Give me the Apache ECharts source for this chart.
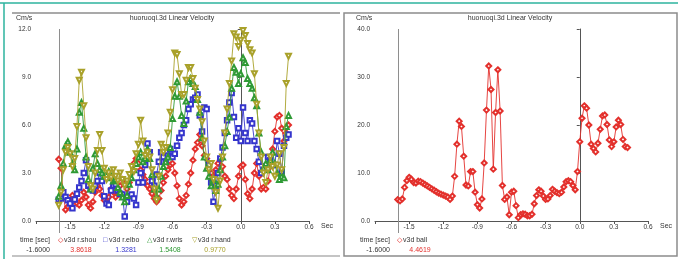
<!DOCTYPE html>
<html lang="en" style="height: 100%">
<head>
  <meta charset="utf-8">
</head>
<body style="height: 100%; margin: 0; background-color:#ffffff;">
  <div id="container" style="width: 678px; height: 259px"></div>

<script src="https://cdn.jsdelivr.net/npm/echarts@6/dist/echarts.min.js"></script>

<script>
  var dom = document.getElementById('container');
  var myChart = echarts.init(dom);

  // sampling: first frame and step (sec)
  var t0 = -1.6, dt = 0.02;
  var xTicks = [-1.8, -1.5, -1.2, -0.9, -0.6, -0.3, 0.0, 0.3, 0.6];

  var shou = [3.86,3.3,1.6,0.7,0.9,1.3,1.6,1.4,1.1,1.0,
    1.3,1.8,1.5,1.0,0.8,1.2,1.8,2.2,2.0,1.6,
    1.3,1.2,1.5,2.0,1.8,1.5,1.8,2.2,2.6,2.3,
    2.0,2.4,3.0,3.6,3.9,3.6,3.2,2.9,2.6,2.2,
    2.0,1.7,1.4,1.2,1.4,1.9,2.4,2.8,3.2,3.5,
    3.6,3.0,2.2,1.4,1.0,1.2,1.6,2.3,3.0,3.8,
    4.5,4.9,5.4,4.7,4.1,3.9,3.5,3.0,2.8,3.2,
    3.6,3.8,3.4,2.8,2.6,2.0,1.6,1.4,2.0,2.8,
    3.4,3.5,2.6,1.7,1.4,2.0,3.0,3.6,2.8,2.0,
    2.1,2.0,2.5,3.4,4.5,5.6,6.5,6.6,5.8,5.0,
    5.5,6.0];
  var elbo = [1.33,1.4,1.8,1.5,1.3,1.1,0.8,1.35,1.7,2.1,
    2.5,3.0,3.8,2.2,2.0,1.9,2.2,2.5,3.0,2.5,
    1.55,1.1,1.0,1.9,2.2,2.3,1.9,1.7,1.65,0.28,
    1.2,1.55,1.65,1.4,1.0,2.4,3.0,2.4,3.5,4.85,
    4.3,2.5,2.2,2.9,3.7,4.3,4.0,3.7,4.1,4.5,
    4.0,4.2,4.7,5.2,5.5,6.0,6.3,7.0,7.3,7.6,
    7.7,7.9,6.6,5.6,7.1,7.0,3.5,2.4,1.2,2.2,
    3.0,3.9,4.6,5.5,6.3,7.4,8.0,6.5,5.2,5.8,
    5.0,7.1,5.5,5.0,6.3,6.1,5.0,4.5,3.7,3.0,
    3.2,3.4,4.0,3.8,3.5,3.5,5.0,4.2,3.1,4.7,
    5.2,5.4];
  var wris = [1.54,2.2,3.6,4.7,4.95,4.3,3.6,3.2,4.5,6.8,
    7.4,5.8,4.0,2.6,2.0,3.3,4.2,3.6,3.2,3.0,
    2.8,2.9,3.1,2.7,2.5,2.6,2.1,1.8,1.5,1.2,
    1.6,2.3,2.7,3.2,3.6,4.0,4.3,3.7,3.9,4.5,
    3.9,2.9,2.0,1.55,2.0,2.8,3.4,3.7,4.0,4.6,
    6.4,7.8,8.7,7.8,6.6,6.1,7.5,8.7,8.9,8.6,
    8.4,7.6,6.8,5.2,4.0,3.3,2.8,2.2,2.6,1.9,
    2.3,3.2,4.0,4.7,5.6,6.5,8.3,9.6,9.3,8.6,
    9.2,10.2,9.9,8.9,8.6,8.3,7.7,7.2,5.5,4.3,
    3.3,3.6,3.2,3.8,4.3,3.6,3.0,2.6,2.8,2.7,
    5.9,6.6];
  var hand = [0.98,1.8,3.2,4.3,4.6,4.2,3.4,3.9,5.9,8.8,
    9.3,7.2,5.2,3.4,2.2,2.0,3.0,4.4,5.4,4.4,
    3.3,2.6,3.0,2.7,3.2,2.8,2.5,3.0,2.6,2.2,
    2.5,2.9,3.4,3.1,4.2,4.8,6.3,5.0,4.1,4.3,
    4.0,3.2,2.0,1.3,2.8,4.8,4.3,4.6,5.5,6.8,
    8.2,10.5,10.4,9.2,7.9,7.9,8.8,9.6,9.6,8.9,
    8.3,7.6,7.0,6.2,5.0,4.0,3.2,3.6,2.6,1.8,
    0.8,2.5,4.0,5.5,7.0,8.6,10.0,11.7,11.5,10.9,
    11.3,11.9,11.6,11.1,10.7,10.5,9.2,7.3,5.5,4.0,
    3.0,2.4,3.2,4.0,3.4,2.8,3.5,4.2,3.2,4.6,
    8.6,10.3];
  var ball = [4.46,4.2,4.6,7.0,8.4,9.1,8.7,8.0,7.9,8.3,
    8.2,7.9,7.6,7.3,7.0,6.7,6.4,6.1,5.8,5.6,
    5.4,5.2,5.0,4.5,5.2,9.3,16.0,20.8,19.7,13.5,
    7.5,7.3,10.3,10.3,6.0,3.4,2.7,4.6,12.1,23.1,
    32.3,27.4,10.8,22.6,31.5,22.9,7.4,4.5,5.0,1.3,
    6.0,6.2,3.2,0.7,1.3,1.5,1.4,1.1,1.1,1.4,
    3.6,5.3,6.5,6.2,5.2,4.5,4.6,5.3,6.6,6.2,
    5.9,5.7,6.0,7.1,8.2,8.4,8.2,7.4,6.5,10.3,
    16.5,21.4,24.0,23.5,20.0,16.0,15.1,14.4,16.2,19.1,
    21.9,22.1,20.1,16.9,15.5,16.5,19.6,21.0,20.1,17.0,
    15.5,15.3];

  var cursorTime = -1.6;
  var leftNames = ['v3d r.shou', 'v3d r.elbo', 'v3d r.wris', 'v3d r.hand'];
  var leftValues = ['3.8618', '1.3281', '1.5408', '0.9770'];
  var rightNames = ['v3d ball'];
  var rightValues = ['4.4619'];
  var yMax = [12, 40];
  var yStep = [3, 10];

  var colors = ['#e3302c', '#3535cc', '#2f9a35', '#a9a12a'];
  var ballColor = '#e3302c';
  var glyphs = ['\u25C7', '\u25A1', '\u25B3', '\u25BD'];
  var symbols = ['emptyDiamond', 'emptyRect', 'emptyTriangle', 'emptyTriangle'];
  var FONT = '"Liberation Sans", Arial, sans-serif';

  function pairs(vals) {
    return vals.map(function (v, i) { return [+(t0 + i * dt).toFixed(2), v]; });
  }

  function xAxisFor(idx) {
    return {
      type: 'value', gridIndex: idx, min: -1.8, max: 0.6, interval: 0.3,
      name: 'Sec', nameLocation: 'end', nameGap: 12,
      nameTextStyle: { color: '#333', fontSize: 7, fontFamily: FONT, verticalAlign: 'top', padding: [2, 0, 0, 0] },
      axisLine: { onZero: false, lineStyle: { color: '#555', width: 1 } },
      axisTick: { length: 3, lineStyle: { color: '#555' } },
      axisLabel: {
        color: '#333', fontSize: 6.5, fontFamily: FONT, margin: 3,
        formatter: function (v) { return Math.abs(v - xTicks[0]) < 1e-6 ? '' : v.toFixed(1); }
      },
      splitLine: { show: false }
    };
  }
  function yAxisFor(idx) {
    return {
      type: 'value', gridIndex: idx, min: 0, max: yMax[idx], interval: yStep[idx],
      axisLine: { show: true, lineStyle: { color: '#555', width: 1 } },
      axisTick: { show: true, length: 3, lineStyle: { color: '#555' } },
      axisLabel: { color: '#333', fontSize: 6.5, fontFamily: FONT, margin: 5,
        formatter: function (v) { return v.toFixed(1); } },
      splitLine: { show: false }
    };
  }

  var leftSeries = [shou, elbo, wris, hand].map(function (vals, k) {
    return {
      name: leftNames[k], type: 'line', xAxisIndex: 0, yAxisIndex: 0,
      data: pairs(vals),
      symbol: symbols[k], symbolSize: k === 1 ? 4.5 : 5,
      symbolRotate: k === 3 ? 180 : 0,
      lineStyle: { color: colors[k], width: 0.9 },
      itemStyle: { color: colors[k], borderWidth: 0.8 },
      z: 3 + k
    };
  });

  var ballSeries = {
    name: rightNames[0], type: 'line', xAxisIndex: 1, yAxisIndex: 1,
    data: pairs(ball), symbol: 'emptyDiamond', symbolSize: 5,
    lineStyle: { color: ballColor, width: 0.9 },
    itemStyle: { color: ballColor, borderWidth: 0.8 },
    z: 3
  };

  // text helpers for titles, units and the cursor read-out
  function txt(x, y, text, color, align, size) {
    return { type: 'text', x: x, y: y, silent: true, z: 10,
      style: { text: text, fill: color, font: (size || 7) + 'px ' + FONT,
        align: align || 'left', textAlign: align || 'left',
        verticalAlign: 'middle', textVerticalAlign: 'middle' } };
  }
  function readout(panelX, names, values, cols, syms, starts) {
    var out = [
      txt(panelX + 38, 240, 'time [sec]', '#333', 'right'),
      txt(panelX + 38, 250, cursorTime.toFixed(4), '#333', 'right')
    ];
    names.forEach(function (n, k) {
      var x = panelX + starts[k];
      out.push(txt(x, 240, syms[k], cols[k], 'left', 7));
      out.push(txt(x + 6, 240, n, '#333', 'left'));
      out.push(txt(x + 23, 250, values[k], cols[k], 'center'));
    });
    return out;
  }

  var graphics = [
    { type: 'line', silent: true, shape: { x1: 0, y1: 3, x2: 678, y2: 3 }, style: { stroke: '#2db39e', lineWidth: 1.5 } },
    { type: 'line', silent: true, shape: { x1: 4, y1: 3, x2: 4, y2: 259 }, style: { stroke: '#2db39e', lineWidth: 1.5 } },
    { type: 'line', silent: true, shape: { x1: 12, y1: 13, x2: 340, y2: 13 }, style: { stroke: '#8c8c8c', lineWidth: 1.5 } },
    { type: 'line', silent: true, shape: { x1: 12, y1: 256, x2: 340, y2: 256 }, style: { stroke: '#b0b0b0', lineWidth: 1.5 } },
    { type: 'rect', silent: true, shape: { x: 344, y: 13, width: 333, height: 243 }, style: { fill: 'none', stroke: '#8c8c8c', lineWidth: 1.5 } },
    txt(172, 18, 'huoruoqi.3d Linear Velocity', '#333', 'center'),
    txt(510, 18, 'huoruoqi.3d Linear Velocity', '#333', 'center'),
    txt(16, 18, 'Cm/s', '#333', 'left'),
    txt(356, 18, 'Cm/s', '#333', 'left')
  ].concat(
    readout(12, leftNames, leftValues, colors, glyphs, [46, 91, 135, 180]),
    readout(352, rightNames, rightValues, [ballColor], [glyphs[0]], [45])
  );

  var option = {
    animation: false,
    backgroundColor: '#ffffff',
    grid: [
      { left: 36, top: 29, width: 273, height: 192, outerBoundsMode: 'none' },
      { left: 375, top: 29, width: 273, height: 192, outerBoundsMode: 'none' }
    ],
    xAxis: [xAxisFor(0), xAxisFor(1)],
    yAxis: [yAxisFor(0), yAxisFor(1)],
    series: leftSeries.concat([ballSeries]),
    graphic: graphics
  };

  myChart.setOption(option);

  // vertical time cursor at the read-out time, placed through each grid's scales
  var cursors = [0, 1].map(function (idx) {
    var top = myChart.convertToPixel({ xAxisIndex: idx, yAxisIndex: idx }, [cursorTime, yMax[idx]]);
    var bot = myChart.convertToPixel({ xAxisIndex: idx, yAxisIndex: idx }, [cursorTime, 0]);
    var px = Math.round(top[0]) + 0.5;
    return { type: 'line', silent: true, z: 1,
      shape: { x1: px, y1: top[1], x2: px, y2: bot[1] + 12 },
      style: { stroke: '#8e8e8e', lineWidth: 1 } };
  });
  myChart.setOption({ graphic: graphics.concat(cursors) });

  window.addEventListener('resize', myChart.resize);
</script>

</body>
</html>
